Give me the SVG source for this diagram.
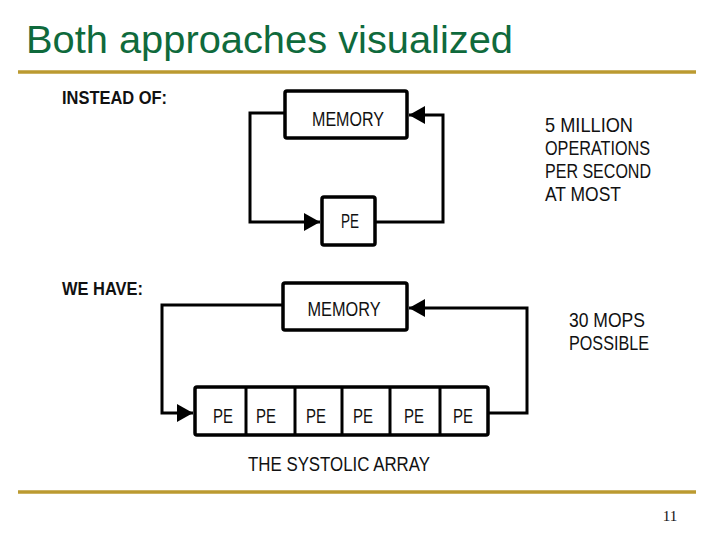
<svg xmlns="http://www.w3.org/2000/svg" width="720" height="540" viewBox="0 0 720 540">
<defs>
<style>
.rule{stroke:#bb9a30;stroke-width:3.5}
.box{fill:#fff;stroke:#000;stroke-width:3.5}
.wire{fill:none;stroke:#000;stroke-width:3}
.t{font-family:"Liberation Sans",Arial,sans-serif;fill:#111}
.lbl{font-family:"Liberation Sans",Arial,sans-serif;font-weight:bold;font-size:18px;fill:#111}
</style>
<marker id="ah" markerUnits="userSpaceOnUse" markerWidth="18" markerHeight="20" refX="16" refY="9" orient="auto">
<path d="M0,0 L16,9 L0,18 Z" fill="#000"/>
</marker>
</defs>
<rect width="720" height="540" fill="#fff"/>
<text x="26" y="53" font-family="Liberation Sans,Arial,sans-serif" font-size="38" fill="#0f6a3c" textLength="487" lengthAdjust="spacingAndGlyphs">Both approaches visualized</text>
<line class="rule" x1="18" y1="72" x2="696" y2="72"/>
<line class="rule" x1="18" y1="492" x2="696" y2="492"/>
<text x="670" y="521" font-family="Liberation Serif,serif" font-size="15" text-anchor="middle" fill="#111">11</text>

<text class="lbl" x="62" y="104" textLength="105" lengthAdjust="spacingAndGlyphs">INSTEAD OF:</text>
<text class="lbl" x="62" y="295" textLength="81" lengthAdjust="spacingAndGlyphs">WE HAVE:</text>

<g id="connectors">
<path class="wire" d="M285,113 H250 V222 H320" marker-end="url(#ah)"/>
<path class="wire" d="M375,222 H443 V115 H409" marker-end="url(#ah)"/>
<path class="wire" d="M283,305 H162 V413 H193" marker-end="url(#ah)"/>
<path class="wire" d="M488,413 H527 V308 H409" marker-end="url(#ah)"/>
</g>

<g id="memory1">
<rect class="box" x="285" y="91" width="122" height="47" rx="2"/>
<text class="t" x="348" y="126" font-size="20" text-anchor="middle" textLength="72" lengthAdjust="spacingAndGlyphs">MEMORY</text>
</g>
<g id="pe1">
<rect class="box" x="322" y="197" width="53" height="48" rx="2"/>
<text class="t" x="350" y="228" font-size="20" text-anchor="middle" textLength="18" lengthAdjust="spacingAndGlyphs">PE</text>
</g>

<g id="memory2">
<rect class="box" x="283" y="283" width="124" height="47" rx="2"/>
<text class="t" x="344" y="316" font-size="20" text-anchor="middle" textLength="73" lengthAdjust="spacingAndGlyphs">MEMORY</text>
</g>

<g id="array">
<rect class="box" x="195" y="387" width="293" height="48" rx="2"/>
<line class="wire" x1="246" y1="387" x2="246" y2="435"/>
<line class="wire" x1="295" y1="387" x2="295" y2="435"/>
<line class="wire" x1="342" y1="387" x2="342" y2="435"/>
<line class="wire" x1="390" y1="387" x2="390" y2="435"/>
<line class="wire" x1="440" y1="387" x2="440" y2="435"/>
<g class="t" font-size="20" text-anchor="middle">
<text x="223" y="423" textLength="20" lengthAdjust="spacingAndGlyphs">PE</text>
<text x="266" y="423" textLength="20" lengthAdjust="spacingAndGlyphs">PE</text>
<text x="316" y="423" textLength="20" lengthAdjust="spacingAndGlyphs">PE</text>
<text x="363" y="423" textLength="20" lengthAdjust="spacingAndGlyphs">PE</text>
<text x="414" y="423" textLength="20" lengthAdjust="spacingAndGlyphs">PE</text>
<text x="463" y="423" textLength="20" lengthAdjust="spacingAndGlyphs">PE</text>
</g>
</g>
<text class="t" x="339" y="471" font-size="20" text-anchor="middle" textLength="182" lengthAdjust="spacingAndGlyphs">THE SYSTOLIC ARRAY</text>

<g class="t" font-size="21">
<text x="545" y="132" textLength="88" lengthAdjust="spacingAndGlyphs">5 MILLION</text>
<text x="545" y="155" textLength="105" lengthAdjust="spacingAndGlyphs">OPERATIONS</text>
<text x="545" y="178" textLength="106" lengthAdjust="spacingAndGlyphs">PER SECOND</text>
<text x="545" y="201" textLength="76" lengthAdjust="spacingAndGlyphs">AT MOST</text>
<text x="569" y="327" textLength="76" lengthAdjust="spacingAndGlyphs">30 MOPS</text>
<text x="569" y="350" textLength="80" lengthAdjust="spacingAndGlyphs">POSSIBLE</text>
</g>
</svg>
